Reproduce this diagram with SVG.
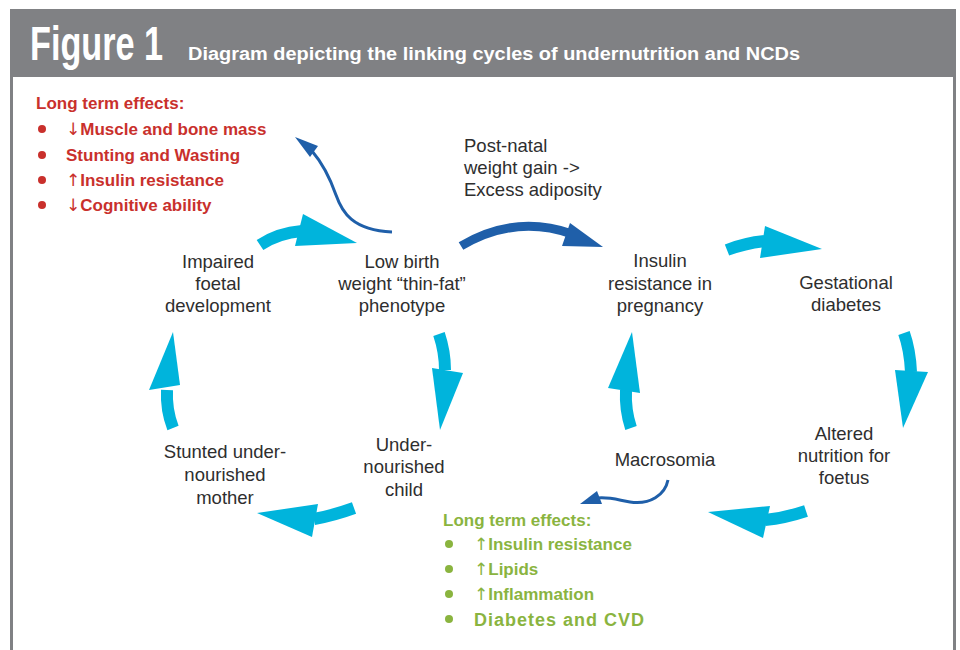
<svg xmlns="http://www.w3.org/2000/svg" width="960" height="650" viewBox="0 0 960 650">
<style>
.node{font-family:"Liberation Sans",Arial,sans-serif;font-size:18.5px;fill:#2e2e2e;text-anchor:middle}
.left{text-anchor:start}
.red{font-family:"Liberation Sans",Arial,sans-serif;font-size:17px;font-weight:bold;fill:#c9302c}
.green{font-family:"Liberation Sans",Arial,sans-serif;font-size:17px;font-weight:bold;fill:#8ab43f}
.ar{font-family:"DejaVu Sans",sans-serif;font-weight:normal}
.shaft{fill:none;stroke:#00b4dc;stroke-width:12}
.head{fill:#00b4dc}
.blue{fill:none;stroke:#1f5fa9}
.bhead{fill:#1f5fa9}
</style>
<rect x="0" y="0" width="960" height="650" fill="#ffffff"/>
<g id="frame">
<rect x="10" y="9" width="946" height="645" fill="#808184"/>
<rect x="13" y="77" width="940" height="580" fill="#ffffff"/>
<text x="30" y="60" font-family="Liberation Sans,Arial,sans-serif" font-weight="bold" font-size="49" fill="#ffffff" textLength="133" lengthAdjust="spacingAndGlyphs">Figure 1</text>
<text x="188" y="60" font-family="Liberation Sans,Arial,sans-serif" font-weight="bold" font-size="18" fill="#ffffff" textLength="612" lengthAdjust="spacingAndGlyphs">Diagram depicting the linking cycles of undernutrition and NCDs</text>
</g>
<g id="effects-red">
<text class="red" x="36" y="109">Long term effects:</text>
<circle cx="42" cy="129" r="4" fill="#c9302c"/>
<circle cx="42" cy="155" r="4" fill="#c9302c"/>
<circle cx="42" cy="180" r="4" fill="#c9302c"/>
<circle cx="42" cy="205" r="4" fill="#c9302c"/>
<text class="red" x="66" y="135"><tspan class="ar">↓</tspan>Muscle and bone mass</text>
<text class="red" x="66" y="161">Stunting and Wasting</text>
<text class="red" x="66" y="186"><tspan class="ar">↑</tspan>Insulin resistance</text>
<text class="red" x="66" y="211"><tspan class="ar">↓</tspan>Cognitive ability</text>
</g>
<g id="effects-green">
<text class="green" x="443" y="526">Long term effects:</text>
<circle cx="449" cy="544" r="4" fill="#8ab43f"/>
<circle cx="449" cy="569" r="4" fill="#8ab43f"/>
<circle cx="449" cy="594" r="4" fill="#8ab43f"/>
<circle cx="449" cy="619" r="4" fill="#8ab43f"/>
<text class="green" x="474" y="550"><tspan class="ar">↑</tspan>Insulin resistance</text>
<text class="green" x="474" y="575"><tspan class="ar">↑</tspan>Lipids</text>
<text class="green" x="474" y="600"><tspan class="ar">↑</tspan>Inflammation</text>
<text class="green" x="474" y="626" style="font-size:18px;letter-spacing:1px">Diabetes and CVD</text>
</g>
<g id="node-impaired"><text class="node" x="218" y="268">Impaired</text><text class="node" x="218" y="290">foetal</text><text class="node" x="218" y="312">development</text></g>
<g id="node-lowbirth"><text class="node" x="402" y="268">Low birth</text><text class="node" x="402" y="290">weight “thin-fat”</text><text class="node" x="402" y="312">phenotype</text></g>
<g id="node-postnatal"><text class="node left" x="464" y="152">Post-natal</text><text class="node left" x="464" y="174">weight gain -&gt;</text><text class="node left" x="464" y="196">Excess adiposity</text></g>
<g id="node-insulin"><text class="node" x="660" y="267">Insulin</text><text class="node" x="660" y="290">resistance in</text><text class="node" x="660" y="312">pregnancy</text></g>
<g id="node-gestational"><text class="node" x="846" y="289">Gestational</text><text class="node" x="846" y="311">diabetes</text></g>
<g id="node-altered"><text class="node" x="844" y="440">Altered</text><text class="node" x="844" y="462">nutrition for</text><text class="node" x="844" y="484">foetus</text></g>
<g id="node-macrosomia"><text class="node" x="665" y="466">Macrosomia</text></g>
<g id="node-child"><text class="node" x="404" y="451">Under-</text><text class="node" x="404" y="473">nourished</text><text class="node" x="404" y="496">child</text></g>
<g id="node-mother"><text class="node" x="225" y="458">Stunted under-</text><text class="node" x="225" y="481">nourished</text><text class="node" x="225" y="504">mother</text></g>
<g id="connectors">
<path class="shaft" d="M260,245 Q278,233 302,231"/><polygon class="head" points="303,214 357,243 295,246"/>
<path class="shaft" d="M727,250 Q745,243 765,241"/><polygon class="head" points="765,226 822,249 760,258"/>
<path class="shaft" d="M904,333 Q910,350 911,372"/><polygon class="head" points="895,370 928,372 903,428"/>
<path class="shaft" d="M806,511 Q785,518 765,520"/><polygon class="head" points="770,506 708,512 763,538"/>
<path class="shaft" d="M631,428 Q625,410 626,390"/><polygon class="head" points="608,388 640,393 632,332"/>
<path class="shaft" d="M439,334 Q445,352 445,370"/><polygon class="head" points="432,368 463,373 440,430"/>
<path class="shaft" d="M354,508 Q335,515 314,519"/><polygon class="head" points="318,504 257,513 312,537"/>
<path class="shaft" d="M173,428 Q166,410 167,390"/><polygon class="head" points="149,390 180,385 173,332"/>
<path class="blue" stroke-width="9" d="M461,246 Q515,214 572,234"/><polygon class="bhead" points="570,223 603,247 562,246"/>
<path class="blue" stroke-width="3" d="M392,232 C352,230 342,212 336,195 C330,178 324,165 312,151"/><polygon class="bhead" points="295,137 318,146 310,157"/>
<path class="blue" stroke-width="3" d="M668,480 C665,495 650,505 630,502 C618,500 610,497 598,498"/><polygon class="bhead" points="580,504 597,491 602,504"/>
</g>
</svg>
